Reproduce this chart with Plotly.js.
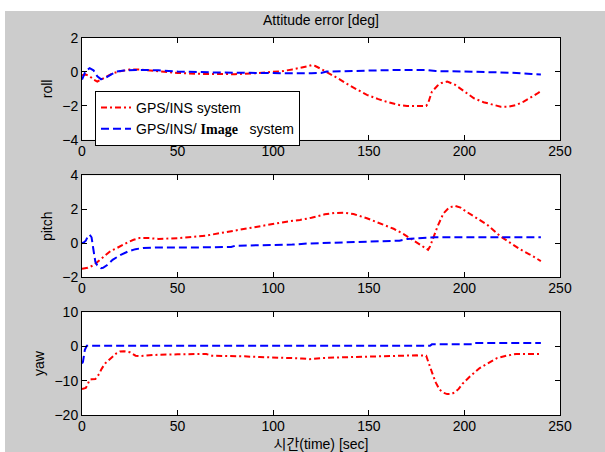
<!DOCTYPE html>
<html>
<head>
<meta charset="utf-8">
<script src="https://cdn.plot.ly/plotly-3.0.1.min.js"></script>
<style>html,body{margin:0;padding:0;background:#fff;}#chart{width:605px;height:452px;}</style>
</head>
<body>
<div id="chart"></div>
<script>
// ---- data ----
var seriesNames = ["GPS/INS system", "GPS/INS/ <b><span style=\"font-family:'Liberation Serif'\">Image</span></b>\u00a0\u00a0 system"];

var rollInsT = [0,2,4,6,8,10,13,16,20,25,30,40,50,60,70,80,90,95,100,105,110,115,118,120,122,125,128,131,135,140,145,149,155,160,166,170,175,180,181,183,186,188,191,195,200,205,210,215,219,223,227,231,235,238,240];
var rollInsV = [-0.2,-0.15,-0.25,-0.45,-0.57,-0.45,-0.27,-0.08,0.04,0.14,0.14,0.04,-0.06,-0.11,-0.13,-0.13,-0.08,-0.05,-0.02,0.05,0.15,0.25,0.33,0.4,0.35,0.18,0.0,-0.18,-0.45,-0.8,-1.1,-1.35,-1.6,-1.78,-1.95,-2.0,-2.0,-2.0,-1.85,-1.16,-0.8,-0.65,-0.57,-0.75,-1.15,-1.55,-1.78,-1.93,-2.05,-2.05,-1.95,-1.75,-1.5,-1.28,-1.12];

var rollImgT = [0,1.5,3,4,6,8,10,13,16,18,22,28,40,50,70,90,100,110,120,125,128,135,145,155,165,180,185,200,215,225,235,240];
var rollImgV = [-0.45,-0.05,0.15,0.22,0.1,-0.25,-0.43,-0.3,-0.1,0.02,0.08,0.12,0.1,0.03,-0.03,-0.07,-0.08,-0.08,-0.08,-0.06,0.02,0.04,0.07,0.1,0.12,0.12,0.05,0.03,0.0,-0.05,-0.12,-0.15];

var pitchInsT = [0,3,6,9,12,15,18,21,24,27,30,35,40,50,58,65,72,80,87,93,100,107,114,120,127,132,137,142,149,156,163,168,173,177,180,181,182,184,186,189,192,195,198,201,206,212,219,224,229,234,240];
var pitchInsV = [-1.5,-1.45,-1.3,-1.0,-0.7,-0.45,-0.3,-0.1,0.06,0.2,0.3,0.3,0.25,0.3,0.39,0.45,0.59,0.75,0.9,1.02,1.15,1.27,1.37,1.5,1.7,1.78,1.8,1.72,1.47,1.15,0.85,0.55,0.19,-0.1,-0.3,-0.39,-0.2,0.4,1.0,1.75,2.1,2.2,2.1,1.86,1.5,1.08,0.39,0.0,-0.35,-0.65,-1.05];

var pitchImgT = [0,1,2,3,4,5,6,7,8,9,10,11,13,16,20,24,28,32,40,60,78,80,90,105,110,118,125,140,150,160,166,170,180,185,200,240];
var pitchImgV = [0.0,0.05,0.15,0.4,0.5,0.35,-0.4,-1.1,-1.3,-1.4,-1.47,-1.45,-1.3,-0.98,-0.7,-0.49,-0.35,-0.28,-0.25,-0.25,-0.22,-0.15,-0.13,-0.12,-0.08,-0.02,0.0,0.05,0.1,0.12,0.15,0.25,0.3,0.35,0.35,0.35];

var yawInsT = [0,2,3,4,5,7,9,10,12,14,16,18,20,22,25,28,30,35,40,50,60,65,68,75,85,93,100,110,115,119,125,135,150,165,175,180,181,182,183,184,185,187,189,191,193,195,197,199,203,208,212,217,222,227,233,240];
var yawInsV = [-12.4,-12.1,-11,-9.7,-9.6,-9.5,-8,-6.8,-5,-3.9,-2.8,-2.0,-1.45,-1.4,-1.7,-2.7,-2.8,-2.6,-2.4,-2.3,-2.2,-2.2,-2.7,-2.7,-2.9,-3.1,-3.2,-3.3,-3.5,-3.7,-3.4,-3.2,-2.9,-2.7,-2.6,-2.7,-4.5,-6,-7.5,-9,-10.5,-12.6,-13.5,-13.9,-13.9,-13.4,-12.4,-10.9,-8.7,-6.3,-5,-3.4,-2.7,-2.2,-2.2,-2.2];

var yawImgT = [0,0.5,1.5,2.5,182,183,204,205,240];
var yawImgV = [-5,-4.5,-1,0.2,0.2,0.6,0.6,1.0,1.0];

var xTicks = [0,50,100,150,200,250];
var titleText = "Attitude error [deg]";
var xLabel = "시간(time) [sec]";
var yLabels = ["roll","pitch","yaw"];
var yRanges = [[-4,2],[-2,4],[-20,10]];
var yDticks = [2,2,10];

// ---- styles ----
var FONT = "'Liberation Sans', Arial, 'Noto Sans CJK KR', sans-serif";
var redLine = {color:'#ff0000', width:2, dash:'6px,3px,2px,3px'};
var blueLine = {color:'#0000ff', width:2, dash:'8px,4px'};

function tr(x, y, line, name, xa, ya, show) {
  return {x:x, y:y, type:'scatter', mode:'lines', line:line, name:name,
          xaxis:xa, yaxis:ya, showlegend:show, hoverinfo:'skip'};
}

var data = [
  tr(rollInsT, rollInsV, redLine, seriesNames[0], 'x', 'y', true),
  tr(rollImgT, rollImgV, blueLine, seriesNames[1], 'x', 'y', true),
  tr(pitchInsT, pitchInsV, redLine, seriesNames[0], 'x2', 'y2', false),
  tr(pitchImgT, pitchImgV, blueLine, seriesNames[1], 'x2', 'y2', false),
  tr(yawInsT, yawInsV, redLine, seriesNames[0], 'x3', 'y3', false),
  tr(yawImgT, yawImgV, blueLine, seriesNames[1], 'x3', 'y3', false)
];

function xax(anchor) {
  return {anchor:anchor, domain:[0,1], range:[0,250], tickvals:xTicks, ticktext:xTicks.map(String),
          showgrid:false, zeroline:false, showline:true, linecolor:'#000', linewidth:1, mirror:'ticks',
          ticks:'inside', ticklen:5, tickcolor:'#000', ticklabelstandoff:-2,
          tickfont:{size:14, color:'#000', family:FONT}};
}
function yax(anchor, dom, i) {
  return {anchor:anchor, domain:dom, range:yRanges[i], dtick:yDticks[i], tick0:0,
          showgrid:false, zeroline:false, showline:true, linecolor:'#000', linewidth:1, mirror:'ticks',
          ticks:'inside', ticklen:5, tickcolor:'#000', tickfont:{size:14, color:'#000', family:FONT},
          title:{text:yLabels[i], font:{size:14, color:'#000', family:FONT}, standoff:6}};
}

var x3 = xax('y3');
x3.title = {text:xLabel, font:{size:14, color:'#000', family:FONT}, standoff:8};

var layout = {
  width:605, height:452,
  margin:{l:82, r:45, t:38, b:36.5, pad:0},
  paper_bgcolor:'#cccccc', plot_bgcolor:'#ffffff',
  font:{family:FONT, size:14, color:'#000'},
  title:{text:titleText, font:{size:14, color:'#000', family:FONT}, x:0.5, xref:'paper', xanchor:'center',
         y:1-20/452, yref:'container', yanchor:'middle'},
  xaxis:xax('y'), xaxis2:xax('y2'), xaxis3:x3,
  yaxis:yax('x', [0.7298,1], 0),
  yaxis2:yax('x2', [0.3656,0.6358], 1),
  yaxis3:yax('x3', [0,0.2728], 2),
  showlegend:true,
  legend:{x:0.0272, y:(415.5-91)/377.5, xanchor:'left', yanchor:'top', bgcolor:'#ffffff', bordercolor:'#000',
          borderwidth:1, font:{size:14, color:'#000', family:FONT}, tracegroupgap:0},
  shapes:[
    {type:'rect', xref:'paper', yref:'paper', x0:-0.2, x1:1.2, y0:(415.5-11)/377.5, y1:1.2,
     fillcolor:'#ffffff', line:{width:0}, layer:'below'},
    {type:'rect', xref:'paper', yref:'paper', x0:-0.2, x1:(5-82)/478, y0:-0.2, y1:1.2,
     fillcolor:'#ffffff', line:{width:0}, layer:'below'}
  ]
};

Plotly.newPlot('chart', data, layout, {staticPlot:true, displayModeBar:false});
</script>
</body>
</html>
